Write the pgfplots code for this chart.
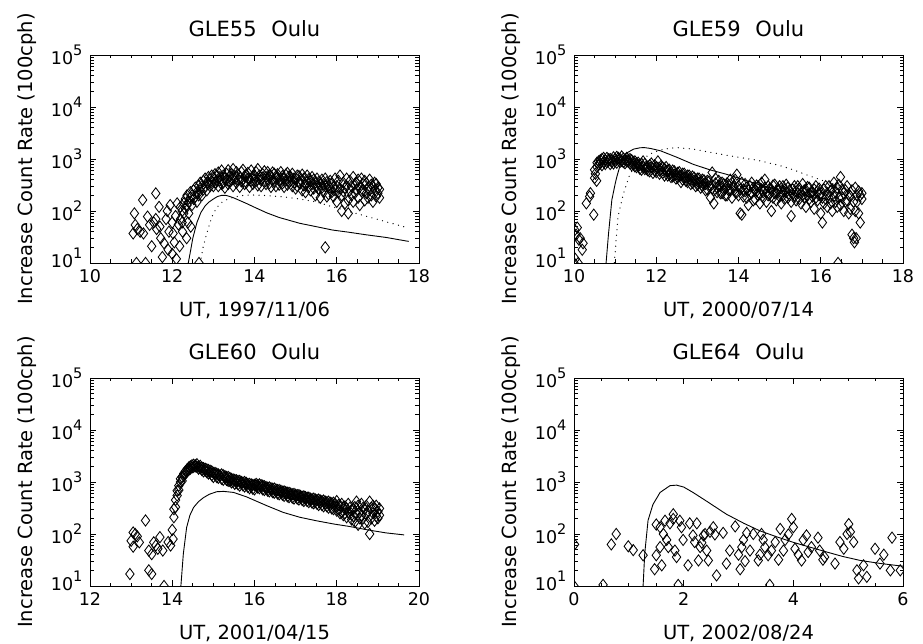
\documentclass[border=0pt]{standalone}
\usepackage{fontspec}
\setmainfont{DejaVu Sans}
\usepackage{pgfplots}
\usepackage{pgfplotstable}
\pgfplotsset{compat=1.18}
\newcommand{\tf}{\fontsize{17.5}{20}\selectfont}
\newcommand{\ex}[1]{\tf 10\raisebox{0.5em}{\fontsize{14.5}{15}\selectfont #1}}

\pgfplotstableread{
x a b
12.20 70 120
12.24 100 60
12.28 140 90
12.32 110 170
12.36 200 130
12.40 150 90
12.44 180 230
12.48 130 200
12.52 250 170
12.56 190 280
12.60 230 150
12.64 300 200
12.68 250 350
12.72 200 300
12.76 380 260
12.80 300 420
12.84 350 250
12.88 450 330
12.92 300 400
12.96 480 360
13.00 420 300
13.04 510 350
13.08 380 460
13.12 300 550
13.16 450 390
13.20 600 330
13.24 350 480
13.28 420 280
13.32 520 400
13.36 330 610
13.40 460 370
13.44 390 520
13.48 640 300
13.52 420 470
13.56 350 560
13.60 500 400
13.64 290 450
13.68 560 370
13.72 400 620
13.76 470 330
13.80 350 500
13.84 540 420
13.88 410 290
13.92 600 380
13.96 330 470
14.00 480 400
14.04 380 560
14.08 640 310
14.12 420 480
14.16 300 390
14.20 510 440
14.24 360 580
14.28 450 330
14.32 560 400
14.36 340 490
14.40 470 290
14.44 390 550
14.48 520 360
14.52 300 430
14.56 450 510
14.60 380 320
14.64 560 410
14.68 340 470
14.72 430 290
14.76 500 380
14.80 320 540
14.84 460 360
14.88 380 450
14.92 520 300
14.96 350 420
15.00 430 270
15.04 300 480
15.08 470 350
15.12 340 400
15.16 250 500
15.20 420 310
15.24 320 230
15.28 480 360
15.32 290 410
15.36 380 250
15.40 450 330
15.44 270 400
15.48 350 200
15.52 420 300
15.56 260 360
15.60 330 180
15.64 400 280
15.68 230 330
15.72 300 420
15.76 360 190
15.80 210 300
15.84 280 380
15.88 340 230
15.92 190 290
15.96 420 250
16.00 300 150
16.04 230 380
16.08 480 270
16.12 200 100
16.16 350 240
16.20 280 140
16.24 420 300
16.28 160 90
16.32 380 250
16.36 300 200
16.40 450 150
16.44 220 330
16.48 350 260
16.52 180 400
16.56 290 130
16.60 420 240
16.64 250 330
16.68 160 380
16.72 340 220
16.76 280 180
16.80 400 250
16.84 200 320
16.88 300 150
16.92 250 350
16.96 330 190
17.00 220 280
17.04 180 260
}\tabA

\pgfplotstableread{
x a b
10.56 700 850
10.60 900 780
10.64 820 950
10.68 1000 760
10.72 880 1050
10.76 950 800
10.80 1050 870
10.84 920 990
10.88 800 1000
10.92 960 870
10.96 1080 820
11.00 900 1000
11.04 1100 850
11.08 950 1050
11.12 1000 880
11.16 1120 920
11.20 870 1020
11.24 980 830
11.28 1050 900
11.32 880 960
11.36 820 1000
11.40 950 760
11.44 780 880
11.48 900 720
11.52 700 830
11.56 850 760
11.60 760 650
11.64 620 800
11.68 700 900
11.72 800 640
11.76 640 720
11.80 720 600
11.84 580 760
11.88 700 820
11.92 650 540
11.96 760 600
12.00 560 700
12.04 680 900
12.08 600 520
12.12 740 630
12.16 540 680
12.20 650 480
12.24 580 700
12.28 480 600
12.32 620 520
12.36 540 450
12.40 460 600
12.44 580 500
12.48 500 420
12.52 440 540
12.56 560 470
12.60 480 360
12.64 400 520
12.68 520 440
12.72 440 380
12.76 360 480
12.80 480 410
12.84 400 330
12.88 350 460
12.92 440 380
12.96 380 300
13.00 320 420
13.04 420 350
13.08 350 280
13.12 300 400
13.16 390 330
13.20 330 250
13.24 260 380
13.28 370 300
13.32 300 180
13.36 550 270
13.40 250 140
13.44 340 420
13.48 280 230
13.52 380 300
13.56 300 220
13.60 220 350
13.64 330 260
13.68 270 200
13.72 200 340
13.76 320 250
13.80 250 400
13.84 350 180
13.88 280 300
13.92 400 230
13.96 230 500
14.00 300 200
14.04 90 260
14.08 85 350
14.12 260 190
14.16 330 240
14.20 180 280
14.24 250 130
14.28 300 210
14.32 220 350
14.36 280 160
14.40 170 250
14.44 240 310
14.48 300 200
14.52 210 140
14.56 350 260
14.60 230 180
14.64 280 400
14.68 150 230
14.72 300 200
14.76 210 270
14.80 260 100
14.84 180 310
14.88 320 220
14.92 220 160
14.96 270 250
15.00 190 300
15.04 240 140
15.08 300 200
15.12 170 260
15.16 230 320
15.20 280 180
15.24 200 250
15.28 150 80
15.32 260 210
15.36 190 300
15.40 240 160
15.44 300 220
15.48 170 270
15.52 220 140
15.56 330 200
15.60 180 250
15.64 250 120
15.68 200 290
15.72 280 170
15.76 150 230
15.80 230 190
15.84 260 110
15.88 180 300
15.92 240 160
15.96 200 270
16.00 90 220
16.04 60 180
16.08 260 140
16.12 170 300
16.16 220 120
16.20 300 180
16.24 140 240
16.28 260 100
16.32 190 350
16.36 230 150
16.40 120 280
16.44 320 180
16.48 450 130
16.52 180 260
16.56 100 220
16.60 250 150
16.64 160 300
16.68 210 90
16.72 110 190
16.76 35 250
16.80 30 150
16.84 280 100
16.88 150 200
16.92 90 240
16.96 200 60
17.00 170 220
}\tabB

\pgfplotstableread{
x a b
14.04 210 300
14.08 330 450
14.12 550 680
14.16 850 700
14.20 1000 1150
14.24 1250 1050
14.28 1450 1300
14.32 1600 1450
14.36 1750 1600
14.40 1900 1700
14.44 2000 1800
14.48 2100 1900
14.52 2150 1950
14.56 2100 2000
14.60 2200 1950
14.64 2000 1800
14.68 1850 2050
14.72 1700 1900
14.76 1850 1600
14.80 1650 1800
14.84 1550 1750
14.88 1700 1450
14.92 1500 1650
14.96 1350 1600
15.00 1500 1250
15.04 1400 1500
15.08 1250 1450
15.12 1400 1200
15.16 1300 1350
15.20 1150 1400
15.24 1350 1100
15.28 1200 1300
15.32 1100 1250
15.36 1250 1050
15.40 1050 1200
15.44 1150 980
15.48 1000 1120
15.52 1100 920
15.56 980 1080
15.60 900 1050
15.64 1050 850
15.68 950 1000
15.72 860 980
15.76 1000 820
15.80 900 960
15.84 800 920
15.88 920 760
15.92 820 900
15.96 740 880
16.00 880 720
16.04 850 920
16.08 780 880
16.12 900 760
16.16 800 870
16.20 720 850
16.24 830 700
16.28 750 800
16.32 680 780
16.36 790 660
16.40 700 760
16.44 640 740
16.48 750 620
16.52 660 720
16.56 600 700
16.60 700 580
16.64 620 680
16.68 570 650
16.72 660 540
16.76 590 640
16.80 530 620
16.84 620 510
16.88 560 600
16.92 500 580
16.96 590 480
17.00 530 570
17.04 480 560
17.08 560 460
17.12 500 540
17.16 450 520
17.20 530 430
17.24 470 510
17.28 430 500
17.32 500 410
17.36 450 480
17.40 400 470
17.44 480 390
17.48 420 460
17.52 380 450
17.56 460 360
17.60 400 440
17.64 360 430
17.68 440 340
17.72 380 420
17.76 340 410
17.80 420 320
17.84 360 400
17.88 310 390
17.92 400 300
17.96 340 380
18.00 430 280
18.04 300 360
18.08 350 250
18.12 270 380
18.16 330 230
18.20 250 340
18.24 310 210
18.28 380 260
18.32 240 320
18.36 290 190
18.40 220 300
18.44 330 170
18.48 420 250
18.52 150 350
18.56 260 200
18.60 380 230
18.64 200 320
18.68 300 160
18.72 240 350
18.76 170 280
18.80 100 420
18.84 320 200
18.88 250 350
18.92 180 300
18.96 350 220
19.00 270 200
19.04 230 310
}\tabC

\pgfplotsset{
  gleax/.style={
    width=329pt, height=208pt, scale only axis,
    ymin=10, ymax=100000,
    ytick={10,100,1000,10000,100000},
    yticklabels={\raisebox{10pt}{\ex{1}},\ex{2},\ex{3},\ex{4},\ex{5}},
    minor ytick={20,30,40,50,60,70,80,90,200,300,400,500,600,700,800,900,2000,3000,4000,5000,6000,7000,8000,9000,20000,30000,40000,50000,60000,70000,80000,90000},
    tick align=inside, major tick length=6pt, minor tick length=3.5pt,
    every tick/.append style={black, line width=0.7pt},
    axis line style={line width=0.9pt},
    minor x tick num=3,
    every tick label/.append style={font=\tf},
    xticklabel style={yshift=-3pt},
    yticklabel style={xshift=-4pt},
    every axis label/.append style={font=\fontsize{19.5}{22}\selectfont},
    every axis title/.append style={font=\fontsize{21}{24}\selectfont},
    title style={at={(axis description cs:0.5,1)}, anchor=base, yshift=12pt},
    xlabel style={at={(axis description cs:0.5,0)}, anchor=base, yshift=-54pt},
    ylabel style={at={(axis description cs:-0.1733,0.5)}, anchor=base},
    clip marker paths=true,
  },
  diam/.style={only marks, mark=diamond, mark size=5.6pt, black, mark options={line width=0.85pt, solid}},
  solc/.style={no marks, black, line width=0.9pt},
  dotc/.style={no marks, black, line width=1.3pt, line cap=round, dash pattern=on 0pt off 5.5pt},
}

\begin{document}
\begin{tikzpicture}
\useasboundingbox (0,0) rectangle (923pt,644pt);

% GLE55
\begin{semilogyaxis}[gleax, at={(90pt,381pt)}, anchor=south west,
  xmin=10, xmax=18, xtick={10,12,14,16,18},
  xticklabels={\tf 10,\tf 12,\tf 14,\tf 16,\tf 18},
  title={GLE55\hspace{0.7em}Oulu}, xlabel={UT, 1997/11/06}, ylabel={Increase Count Rate (100cph)}]
\addplot[diam] coordinates {(11.05,37)(11.08,90)(11.10,54)(11.15,45)(11.13,10)(11.22,40)(11.28,163)(11.30,37)(11.35,10)(11.40,78)(11.45,54)(11.50,21)(11.55,60)(11.60,218)(11.62,45)(11.68,120)(11.72,30)(11.76,13)(11.80,24)(11.85,70)(11.88,100)(11.92,40)(11.95,130)(12.00,60)(12.02,37)(12.05,25)(12.08,80)(12.10,12)(12.12,140)(12.15,55)(12.18,21)(12.25,40)(12.35,30)(12.38,60)(12.65,10)(11.90,18)(12.00,15)(11.60,70)(11.70,50)(12.45,50)(15.72,20)};
\addplot[diam] table[x=x,y=a] {\tabA};
\addplot[diam] table[x=x,y=b] {\tabA};
\addplot[solc] coordinates {(12.30,8)(12.39,10)(12.45,18)(12.50,30)(12.60,60)(12.70,95)(12.80,125)(12.90,150)(13.00,170)(13.10,190)(13.20,200)(13.30,200)(13.40,190)(13.50,178)(13.80,140)(14.00,118)(14.30,92)(14.60,75)(15.10,58)(15.50,50)(15.90,43)(16.30,39)(16.70,35)(17.20,31)(17.75,26)};
\addplot[dotc] coordinates {(12.60,8)(12.68,10)(12.75,20)(12.84,37)(12.92,60)(13.00,91)(13.10,120)(13.20,145)(13.30,162)(13.50,185)(13.70,198)(13.90,204)(14.20,200)(14.70,187)(15.10,170)(15.50,150)(15.90,120)(16.30,98)(16.70,80)(17.20,62)(17.75,47)};
\end{semilogyaxis}

% GLE59
\begin{semilogyaxis}[gleax, at={(574pt,381pt)}, anchor=south west,
  xmin=10, xmax=18, xtick={10,12,14,16,18},
  xticklabels={\tf 10,\tf 12,\tf 14,\tf 16,\tf 18},
  title={GLE59\hspace{0.7em}Oulu}, xlabel={UT, 2000/07/14}, ylabel={Increase Count Rate (100cph)}]
\addplot[diam] coordinates {(10.02,43)(10.05,35)(10.08,48)(10.12,28)(10.15,30)(10.20,18)(10.22,24)(10.03,12)(10.10,10)(10.00,10)(10.30,140)(10.38,190)(10.40,220)(10.48,85)(10.50,430)(10.52,520)(10.50,620)(10.55,380)(16.42,10)(16.82,25)(16.86,30)};
\addplot[diam] table[x=x,y=a] {\tabB};
\addplot[diam] table[x=x,y=b] {\tabB};
\addplot[solc] coordinates {(10.75,8)(10.78,10)(10.84,37)(10.92,163)(11.00,330)(11.04,450)(11.12,750)(11.20,1070)(11.30,1330)(11.45,1550)(11.60,1640)(11.70,1660)(11.85,1600)(12.10,1440)(12.50,1080)(12.90,790)(13.30,620)(13.70,510)(14.00,430)(14.50,320)(15.00,250)(15.50,205)(16.00,175)(16.50,150)};
\addplot[dotc] coordinates {(10.95,8)(10.98,10)(11.07,78)(11.20,214)(11.36,515)(11.60,930)(11.93,1350)(12.20,1550)(12.50,1660)(12.90,1550)(13.30,1350)(13.80,1150)(14.50,930)(15.00,750)(15.33,620)(15.80,450)(16.20,350)(16.50,290)};
\end{semilogyaxis}

% GLE60
\begin{semilogyaxis}[gleax, at={(90pt,58pt)}, anchor=south west,
  xmin=12, xmax=20, xtick={12,14,16,18,20},
  xticklabels={\tf 12,\tf 14,\tf 16,\tf 18,\tf 20},
  title={GLE60\hspace{0.7em}Oulu}, xlabel={UT, 2001/04/15}, ylabel={Increase Count Rate (100cph)}]
\addplot[diam] coordinates {(12.97,17)(13.00,74)(13.05,107)(13.05,57)(13.10,100)(13.15,90)(13.20,69)(13.35,182)(13.43,20)(13.50,17)(13.43,48)(13.50,41)(13.55,69)(13.60,60)(13.70,87)(13.65,52)(13.77,48)(13.80,10)(13.90,70)(13.96,60)(14.00,120)(14.02,80)};
\addplot[diam] table[x=x,y=a] {\tabC};
\addplot[diam] table[x=x,y=b] {\tabC};
\addplot[solc] coordinates {(14.18,8)(14.21,10)(14.27,42)(14.35,134)(14.43,230)(14.52,325)(14.64,420)(14.76,500)(14.90,580)(15.08,650)(15.25,660)(15.49,630)(15.80,520)(16.30,350)(16.70,260)(17.10,210)(17.50,180)(17.94,155)(18.30,140)(18.75,120)(19.20,105)(19.64,96)};
\end{semilogyaxis}

% GLE64
\begin{semilogyaxis}[gleax, at={(574pt,58pt)}, anchor=south west,
  xmin=0, xmax=6, xtick={0,2,4,6},
  xticklabels={\tf 0,\tf 2,\tf 4,\tf 6},
  title={GLE64\hspace{0.7em}Oulu}, xlabel={UT, 2002/08/24}, ylabel={Increase Count Rate (100cph)}]
\addplot[diam] coordinates {(0.01,63)(0.00,10)(0.53,10.5)(0.68,63)(0.77,100)(0.99,58)(1.08,49)(1.26,39)(1.47,21)(1.50,39)(1.50,152)(1.57,56)(1.60,25)(1.57,135)(1.63,100)(1.66,180)(1.69,77)(1.72,56)(1.75,160)(1.81,195)(1.84,48)(1.81,240)(1.87,36)(1.90,10.5)(1.93,180)(1.96,135)(1.99,77)(2.08,25)(2.11,160)(2.17,94)(2.20,70)(2.24,160)(2.27,31)(2.30,56)(2.33,68)(2.36,94)(2.39,100)(2.42,48)(2.45,31)(2.48,110)(2.54,135)(2.57,98)(2.60,16)(2.72,105)(2.78,27)(2.84,48)(2.94,140)(3.00,40)(3.03,21)(3.06,56)(3.09,77)(3.12,30)(3.15,105)(3.21,48)(3.27,100)(3.36,31)(3.39,40)(3.42,100)(3.45,77)(3.48,56)(3.54,39)(3.57,10.5)(3.60,48)(3.67,70)(3.73,32)(3.76,125)(3.82,48)(3.85,77)(3.91,98)(3.97,195)(4.00,135)(4.03,52)(4.09,40)(4.15,31)(4.18,77)(4.24,94)(4.27,45)(4.33,56)(4.45,85)(4.48,48)(4.54,32)(4.57,36)(4.76,27)(4.85,70)(4.92,52)(4.98,100)(5.01,155)(5.04,110)(5.10,70)(5.16,20)(5.19,14)(5.28,25)(5.34,15)(5.49,52)(5.58,27)(5.65,40)(5.77,20)(5.80,85)(5.95,20)};
\addplot[solc] coordinates {(1.24,8)(1.26,10)(1.29,42)(1.35,182)(1.44,370)(1.57,630)(1.75,850)(1.87,870)(2.00,800)(2.17,630)(2.40,440)(2.78,240)(3.10,160)(3.39,115)(3.70,88)(4.00,69)(4.30,56)(4.61,45)(4.90,37)(5.22,31)(5.60,27)(6.00,24)};
\end{semilogyaxis}
\end{tikzpicture}
\end{document}
